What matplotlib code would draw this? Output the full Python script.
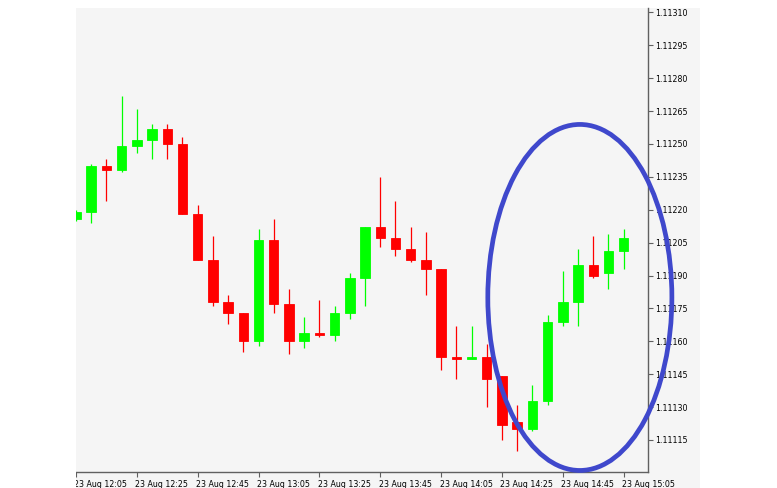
import matplotlib
matplotlib.use("Agg")
import matplotlib.pyplot as plt
from matplotlib.patches import Ellipse, Rectangle
import matplotlib.transforms as mtrans
import numpy as np

# ---- data (EURUSD M5, 23 Aug 12:05 .. 15:05) ----
opens  = [1.11216, 1.11219, 1.11240, 1.11238, 1.11249, 1.11252, 1.11257, 1.11250,
          1.11218, 1.11197, 1.11178, 1.11173, 1.11160, 1.11206, 1.11177, 1.11160,
          1.11164, 1.11163, 1.11173, 1.11189, 1.11212, 1.11207, 1.11202, 1.11197,
          1.11193, 1.11153, 1.11152, 1.11153, 1.11144, 1.11123, 1.11120, 1.11133,
          1.11169, 1.11178, 1.11195, 1.11191, 1.11201]
highs  = [1.11220, 1.11241, 1.11243, 1.11272, 1.11266, 1.11259, 1.11259, 1.11253,
          1.11222, 1.11208, 1.11181, 1.11173, 1.11211, 1.11216, 1.11184, 1.11171,
          1.11179, 1.11176, 1.11191, 1.11212, 1.11235, 1.11224, 1.11212, 1.11210,
          1.11193, 1.11167, 1.11167, 1.11159, 1.11144, 1.11131, 1.11140, 1.11172,
          1.11192, 1.11202, 1.11208, 1.11209, 1.11211]
lows   = [1.11215, 1.11214, 1.11224, 1.11237, 1.11246, 1.11243, 1.11243, 1.11218,
          1.11197, 1.11176, 1.11168, 1.11155, 1.11158, 1.11173, 1.11154, 1.11157,
          1.11162, 1.11160, 1.11170, 1.11176, 1.11203, 1.11199, 1.11196, 1.11181,
          1.11147, 1.11143, 1.11152, 1.11130, 1.11115, 1.11110, 1.11119, 1.11131,
          1.11167, 1.11167, 1.11189, 1.11184, 1.11193]
closes = [1.11219, 1.11240, 1.11238, 1.11249, 1.11252, 1.11257, 1.11250, 1.11218,
          1.11197, 1.11178, 1.11173, 1.11160, 1.11206, 1.11177, 1.11160, 1.11164,
          1.11163, 1.11173, 1.11189, 1.11212, 1.11207, 1.11202, 1.11197, 1.11193,
          1.11153, 1.11152, 1.11153, 1.11143, 1.11122, 1.11120, 1.11133, 1.11169,
          1.11178, 1.11195, 1.11190, 1.11201, 1.11207]
time_labels = ["23 Aug 12:05", "23 Aug 12:25", "23 Aug 12:45", "23 Aug 13:05",
               "23 Aug 13:25", "23 Aug 13:45", "23 Aug 14:05", "23 Aug 14:25",
               "23 Aug 14:45", "23 Aug 15:05"]
label_every = 4
price_ticks = [1.11115, 1.11130, 1.11145, 1.11160, 1.11175, 1.11190, 1.11205,
               1.11220, 1.11235, 1.11250, 1.11265, 1.11280, 1.11295, 1.11310]
# highlight ellipse (center index, center price, width in bars, height in price)
ell_center = (33.12, 1.11180)
ell_size = (12.1, 0.001578)

W, H = 777, 488
fig = plt.figure(figsize=(W / 100, H / 100), dpi=100)
fig.patch.set_facecolor("white")
BG = "#f5f5f5"

def fx(px):
    return px / W

def fy(py):
    return 1 - py / H

# gray panel behind everything (chart window)
fig.patches.append(Rectangle((fx(76), fy(488)), fx(700) - fx(76), fy(8) - fy(488),
                             transform=fig.transFigure, facecolor=BG,
                             edgecolor="none", zorder=-5))

ax = fig.add_axes([fx(76), fy(472), fx(648) - fx(76), fy(8) - fy(472)])
ax.set_facecolor(BG)

n = len(opens)
idx = np.arange(n)
o = np.array(opens); h = np.array(highs); l = np.array(lows); c = np.array(closes)
up = c >= o
cols = np.where(up, "#00ff00", "#ff0000")

ax.vlines(idx, l, h, colors=cols, linewidth=0.9, zorder=2)
bottoms = np.minimum(o, c)
heights = np.maximum(np.abs(c - o), 0.000008)
ax.bar(idx, heights, bottom=bottoms, width=0.62, color=cols, edgecolor=cols,
       linewidth=0.6, zorder=3)

ax.add_patch(Ellipse(ell_center, ell_size[0], ell_size[1], facecolor="none",
                     edgecolor="#3f48cc", linewidth=3.4, clip_on=False, zorder=5))

ax.set_xlim(0.216, 37.6)
ax.set_ylim(1.111004, 1.113120)

for s in ["left", "top"]:
    ax.spines[s].set_visible(False)
for s in ["right", "bottom"]:
    ax.spines[s].set_color("#606060")
    ax.spines[s].set_linewidth(1.0)

ax.yaxis.tick_right()
ax.set_yticks(price_ticks)
ax.set_yticklabels([f"{p:.5f}" for p in price_ticks])
ax.tick_params(axis="y", direction="out", length=3.5, width=0.8, color="#606060",
               labelsize=5.7, pad=1.5, labelcolor="black")

xt = idx[::label_every][:len(time_labels)]
ax.set_xticks(xt)
ax.set_xticklabels(time_labels, ha="left")
ax.tick_params(axis="x", direction="out", length=3.5, width=0.8, color="#606060",
               labelsize=5.7, pad=2.0, labelcolor="black")
offset = mtrans.ScaledTranslation(-1.5 / 100, 0, fig.dpi_scale_trans)
for t in ax.get_xticklabels():
    t.set_horizontalalignment("left")
    t.set_transform(t.get_transform() + offset)

# white margin on the left (screenshot crop)
fig.patches.append(Rectangle((0, 0), fx(76), 1, transform=fig.transFigure,
                             facecolor="white", edgecolor="none", zorder=20))

fig.savefig("out.png", dpi=100, facecolor="white")
